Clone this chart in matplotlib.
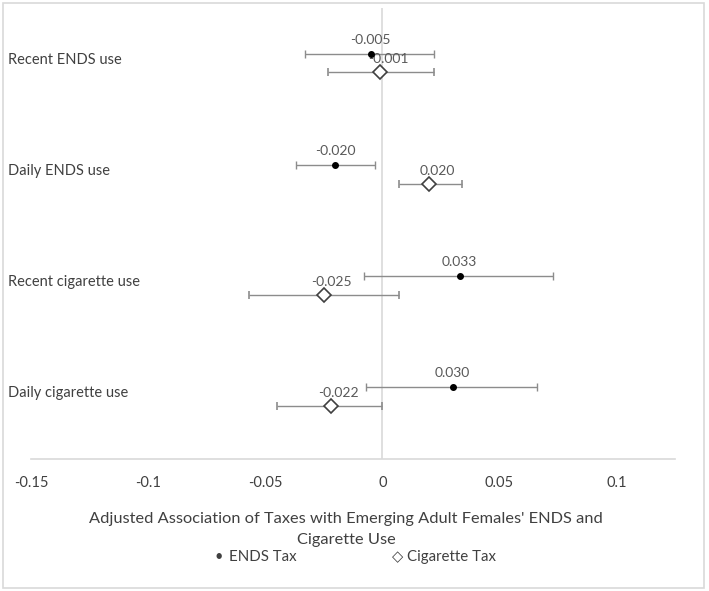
import matplotlib.pyplot as plt
import matplotlib.transforms as mtransforms
import numpy as np

plt.rcParams['font.family'] = ['Lato', 'DejaVu Sans']

# Данные
categories = ['Recent ENDS use', 'Daily ENDS use', 'Recent cigarette use', 'Daily cigarette use']
ends_est = [-0.005, -0.020, 0.033, 0.030]
ends_lo = [-0.033, -0.037, -0.008, -0.007]
ends_hi = [0.022, -0.003, 0.073, 0.066]
cig_est = [-0.001, 0.020, -0.025, -0.022]
cig_lo = [-0.023, 0.007, -0.057, -0.045]
cig_hi = [0.022, 0.034, 0.007, 0.000]
x_ticks = [-0.15, -0.1, -0.05, 0, 0.05, 0.1]
x_labels = ['-0.15', '-0.1', '-0.05', '0', '0.05', '0.1']

W, H = 709, 591
fig = plt.figure(figsize=(W / 100, H / 100), dpi=100, facecolor='white')

# рамка вокруг всей диаграммы
fig.patches.append(plt.Rectangle((3 / W, 3 / H), 701 / W, 585 / H, transform=fig.transFigure,
                                 fill=False, edgecolor='#d9d9d9', linewidth=1.2))

ax = fig.add_axes([31 / W, 1 - 459 / H, 644 / W, 451 / H])

pos = np.arange(len(categories))[::-1].astype(float)
ends_y = pos + 0.06
cig_y = pos - 0.11

ends_err = [np.array(ends_est) - np.array(ends_lo), np.array(ends_hi) - np.array(ends_est)]
cig_err = [np.array(cig_est) - np.array(cig_lo), np.array(cig_hi) - np.array(cig_est)]

ax.axvline(0, color='#d9d9d9', linewidth=1.2, zorder=1)

ax.errorbar(ends_est, ends_y, xerr=ends_err, fmt='o', color='black', markersize=4,
            ecolor='#8c8c8c', elinewidth=1, capsize=3, capthick=1, zorder=3)
ax.errorbar(cig_est, cig_y, xerr=cig_err, fmt='D', markerfacecolor='white',
            markeredgecolor='#404040', markeredgewidth=1.2, markersize=7,
            ecolor='#8c8c8c', elinewidth=1, capsize=3, capthick=1, zorder=3)

for v, y in zip(ends_est, ends_y):
    ax.annotate(f'{v:.3f}', (v, y), xytext=(0, 14), textcoords='offset pixels',
                ha='center', va='center', fontsize=10, color='#595959')
for v, y in zip(cig_est, cig_y):
    ax.annotate(f'{v:.3f}', (v, y), xytext=(8, 13), textcoords='offset pixels',
                ha='center', va='center', fontsize=10, color='#595959')

ax.set_xlim(-0.15, 0.125)
ax.set_ylim(-0.59, 3.47)
ax.set_xticks(x_ticks)
ax.set_xticklabels(x_labels, fontsize=10.5, color='#404040')
ax.tick_params(axis='x', length=0, pad=12)
ax.set_yticks([])

for s in ['top', 'right', 'left']:
    ax.spines[s].set_visible(False)
ax.spines['bottom'].set_color('#d9d9d9')
ax.spines['bottom'].set_linewidth(1.2)

# подписи категорий: x в координатах фигуры, y в данных
lab_tr = mtransforms.blended_transform_factory(fig.transFigure, ax.transData)
for name, p in zip(categories, pos):
    ax.text(8 / W, p, name, transform=lab_tr, fontsize=10.5,
            color='#404040', ha='left', va='center')

fig.text(346 / W, 1 - 519 / H, "Adjusted Association of Taxes with Emerging Adult Females' ENDS and",
         ha='center', va='center', fontsize=11.8, color='#404040')
fig.text(346 / W, 1 - 540 / H, 'Cigarette Use', ha='center', va='center', fontsize=11.8, color='#404040')

# легенда
fig.text(219 / W, 1 - 557 / H, '•', ha='center', va='center', fontsize=10.5, color='#404040')
fig.text(229 / W, 1 - 557 / H, 'ENDS Tax', ha='left', va='center', fontsize=10.8, color='#404040')
fig.text(398 / W, 1 - 557 / H, '◇', ha='center', va='center', fontsize=10.5, color='#404040',
         family=['DejaVu Sans'])
fig.text(407 / W, 1 - 557 / H, 'Cigarette Tax', ha='left', va='center', fontsize=10.8, color='#404040')

fig.savefig('out.png', dpi=100)
